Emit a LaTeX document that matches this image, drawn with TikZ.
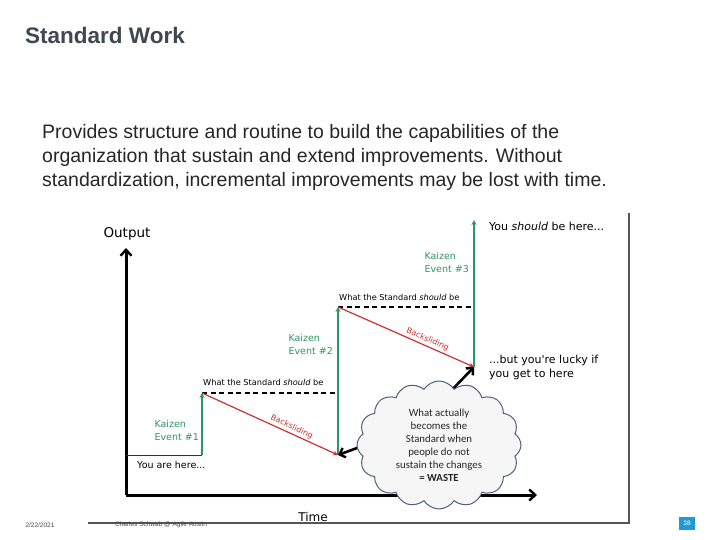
\documentclass[tikz,border=0pt]{standalone}
\usepackage{fontspec}
\setmainfont{Liberation Sans}
\newfontfamily\chartfont{DejaVu Sans}
\newfontfamily\cloudfont{Carlito}
\usepackage{tikz}
\usetikzlibrary{arrows.meta, positioning, shapes.symbols}
\definecolor{titlegray}{RGB}{62,72,82}
\definecolor{bodygray}{RGB}{38,38,38}
\definecolor{kaizengreen}{RGB}{46,150,100}
\definecolor{slidered}{RGB}{200,50,50}
\definecolor{cloudedge}{RGB}{80,95,120}
\definecolor{framegray}{RGB}{85,85,85}
\definecolor{pageblue}{RGB}{30,155,215}

\begin{document}
\begin{tikzpicture}[x=1pt, y=-1pt,
    chart/.style={font=\chartfont\fontsize{9.5}{13}\selectfont, inner sep=0pt},
    kaizen/.style={chart, text=kaizengreen, align=left, anchor=east},
    stdlabel/.style={chart, font=\chartfont\fontsize{8.2}{10}\selectfont, anchor=base west},
    slidelbl/.style={font=\chartfont\fontsize{8}{10}\selectfont, text=slidered,
                     inner sep=2pt, sloped, above, pos=0.64},
    rise/.style={kaizengreen, line width=1.2pt, -{Stealth[length=5pt,width=5pt]}},
    fall/.style={slidered, line width=1.2pt, -{Stealth[length=5pt,width=5pt]}},
    standard/.style={line width=1.4pt, dash pattern=on 5pt off 3.5pt},
    axis/.style={line width=3pt, -{Straight Barb[length=6pt,width=11pt,line width=2.4pt]}},
    pointer/.style={line width=2.6pt, -{Straight Barb[length=5pt,width=10pt,line width=2.4pt]}},
    footer/.style={font=\fontsize{6.5}{8}\selectfont, text=black!70, inner sep=0pt}]

\useasboundingbox (0,0) rectangle (720,540);

\node (title) [anchor=base west, inner sep=0pt, text=titlegray,
    font=\bfseries\fontsize{22.5}{27}\selectfont] at (25,43.5) {Standard Work};
\node (body) [anchor=north west, inner sep=0pt, align=left, text=bodygray,
    font=\fontsize{19.5}{24}\selectfont] at (42,124)
    {Provides structure and routine to build the capabilities of the\\
     organization that sustain and extend improvements. Without\\
     standardization, incremental improvements may be lost with time.};

% chart
\draw[framegray, line width=1.2pt] (88,523) -- (629,523) -- (629,213);

\coordinate (orig) at (126,495);
\coordinate (ytip) at (126,248);
\coordinate (xtip) at (537,495);
\coordinate (p0) at (126,455);
\coordinate (p1a) at (202,455);
\coordinate (p1) at (202,393);
\coordinate (p2) at (338,455);
\coordinate (p2top) at (338,307);
\coordinate (p3) at (474,367);
\coordinate (p3top) at (474,220);
\coordinate (wleft) at (368,444);
\coordinate (wtop) at (446,396);

\draw[axis] (orig) -- (ytip);
\draw[axis] (orig) -- (xtip);
\node (lblout) [chart, font=\chartfont\fontsize{13.5}{16}\selectfont] at (127,234) {Output};
\node (lbltime) [chart, font=\chartfont\fontsize{12}{14}\selectfont] at (313,517) {Time};

\draw[line width=1pt, black!80] (p0) -- (p1a);
\draw[rise] (p1a) -- (p1);
\draw[standard] (p1) -- (p1 -| p2);
\draw[fall] (p1) -- node[slidelbl]{Backsliding} (p2);
\draw[rise] (p2) -- (p2top);
\draw[standard] (p2top) -- (p2top -| p3);
\draw[fall] (p2top) -- node[slidelbl]{Backsliding} (p3);
\draw[rise] (p3) -- (p3top);

\node (here)   [chart, anchor=west] at (137,465) {You are here...};
\node (kaizen1) [kaizen] at (199,430) {Kaizen\\Event \#1};
\node (kaizen2) [kaizen] at (333,344.5) {Kaizen\\Event \#2};
\node (kaizen3) [kaizen] at (469,262.5) {Kaizen\\Event \#3};
\node (std1) [stdlabel] at (203,385) {What the Standard \textit{should} be};
\node (std2) [stdlabel] at (339,300) {What the Standard \textit{should} be};
\node (should) [chart, anchor=base west, font=\chartfont\fontsize{11}{14}\selectfont]
    at (489,230) {You \textit{should} be here...};
\node (lucky) [chart, anchor=north west, align=left,
    font=\chartfont\fontsize{11}{14}\selectfont] at (489,354.5)
    {...but you're lucky if\\you get to here};

\draw[pointer] (wleft) -- (p2);
\draw[pointer] (wtop) -- (p3);
\node (waste) [cloud, cloud puffs=16, cloud puff arc=115, aspect=1.27,
    draw=cloudedge, line width=1pt, fill=gray!7, minimum width=164pt,
    minimum height=128pt, inner sep=0pt, align=center, text=black!85,
    font=\cloudfont\fontsize{10.8}{13}\selectfont] at (439,445)
    {What actually\\becomes the\\Standard when\\people do not\\sustain the changes\\\textbf{= WASTE}};

% footer
\node (date) [footer] at (40,525) {2/22/2021};
\node (credit) [footer] at (161,525) {Charles Schwab @ Agile Austin};
\node (page) [footer, fill=pageblue, text=white, minimum width=16pt,
    minimum height=13pt] at (687,523.5) {38};
\end{tikzpicture}
\end{document}
